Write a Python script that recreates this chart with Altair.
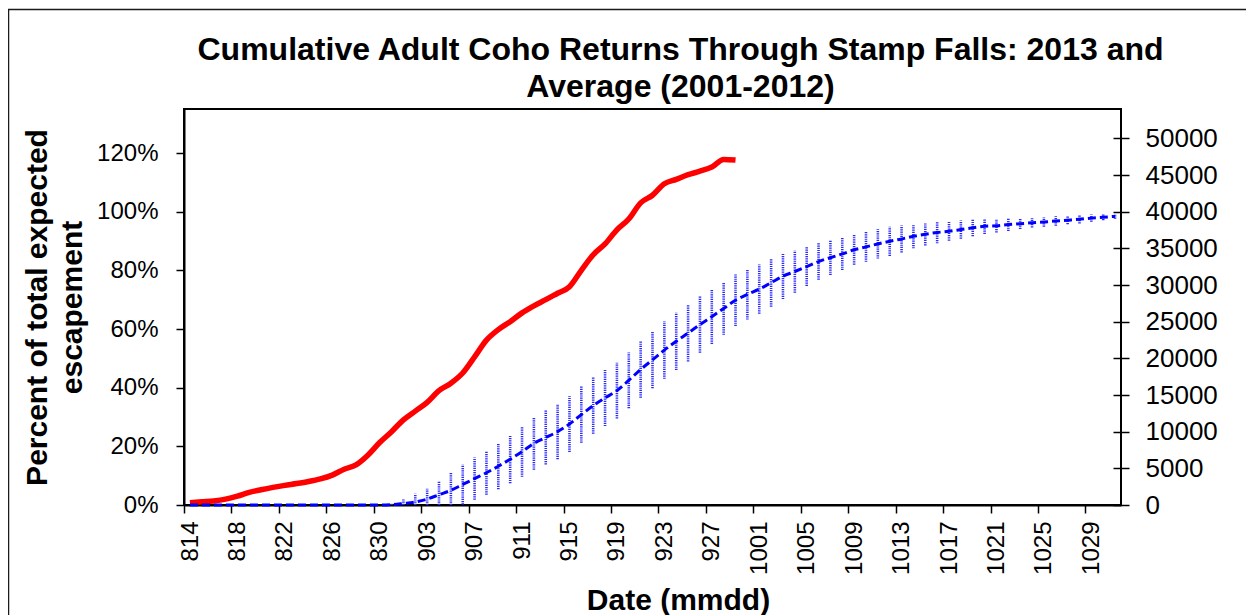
import altair as alt
import pandas as pd

FONT = "Liberation Sans"

# x-axis tick labels (mmdd), one every 4 days starting at 814
tick_labels = ["814", "818", "822", "826", "830", "903", "907", "911", "915", "919",
               "923", "927", "1001", "1005", "1009", "1013", "1017", "1021", "1025", "1029"]

# 2013 cumulative % of total expected escapement (daily from 814)
pct_2013 = [0.8, 1.1, 1.4, 2.0, 3.0, 4.3, 5.2, 6.0, 6.7, 7.3,
            8.0, 8.9, 10.2, 12.2, 13.7, 17.0, 21.3, 25.0, 29.0, 32.0,
            35.0, 39.0, 41.5, 45.0, 50.5, 56.2, 59.8, 62.5, 65.5, 67.9,
            70.0, 72.2, 74.4, 80.0, 85.3, 89.0, 93.8, 97.5, 103.0, 105.6,
            109.5, 111.0, 112.6, 113.8, 115.2, 117.8, 117.6]

# Average 2001-2012 cumulative % (daily from 814)
pct_avg = [0, 0, 0, 0, 0, 0, 0, 0, 0, 0,
           0, 0, 0, 0, 0, 0, 0, 0.1, 0.5, 1.0,
           2.0, 3.5, 5.0, 7.0, 9.0, 11.0, 13.2, 15.6, 18.2, 21.0,
           23.0, 25.0, 27.6, 30.8, 33.9, 36.5, 39.0, 42.5, 46.2, 49.5,
           52.8, 55.8, 58.6, 61.5, 64.2, 67.0, 69.8, 71.8, 73.6, 75.8,
           78.0, 79.6, 81.3, 83.0, 84.3, 85.6, 87.0, 88.0, 89.0, 89.9,
           90.7, 91.6, 92.3, 92.9, 93.3, 93.9, 94.5, 95.0, 95.2, 95.6,
           95.9, 96.2, 96.5, 96.8, 97.1, 97.4, 97.8, 98.1, 98.4]

# error bar half-widths (%) for the average
err_avg = [0, 0, 0, 0, 0, 0, 0, 0, 0, 0,
           0, 0, 0, 0, 0, 0, 0, 0.3, 1.5, 2.8,
           3.5, 4.5, 6.0, 6.8, 7.2, 7.5, 7.8, 8.2, 8.6, 9.0,
           9.2, 9.4, 9.5, 9.6, 9.6, 9.6, 9.5, 9.5, 9.6, 9.7,
           9.8, 9.8, 9.7, 9.6, 9.3, 9.0, 8.8, 8.6, 8.4, 8.2,
           7.8, 7.2, 6.6, 6.2, 5.9, 5.5, 5.1, 5.1, 5.0, 5.0,
           4.6, 4.1, 3.8, 3.7, 3.2, 3.1, 2.9, 2.6, 2.3, 2.2,
           1.8, 1.6, 1.6, 1.6, 1.4, 1.4, 1.2, 1.0, 0.8]

n_days = len(pct_avg)

red_df = pd.DataFrame({"day": [i + 0.5 for i in range(len(pct_2013))],
                       "pct": [v / 100 for v in pct_2013]})
avg_df = pd.DataFrame({"day": [i + 0.5 for i in range(n_days)],
                       "pct": [v / 100 for v in pct_avg],
                       "err": [e / 100 for e in err_avg]})
avg_df["lo"] = (avg_df["pct"] - avg_df["err"]).clip(lower=0)
avg_df["hi"] = avg_df["pct"] + avg_df["err"]
avg_df["count"] = avg_df["pct"] * 40000
err_df = avg_df[avg_df["err"] > 0]

W, H = 937, 396
PAD = {"left": 176, "top": 101, "right": 125, "bottom": 110}
label_expr = "[" + ",".join("'%s'" % t for t in tick_labels) + "][round(datum.value / 4)]"

x_axis = alt.Axis(values=[4 * k for k in range(len(tick_labels))], labelExpr=label_expr,
                  labelAngle=-90, labelOffset=6, tickSize=8, labelPadding=8,
                  labelFontSize=24, title="Date (mmdd)", titleFontSize=30,
                  titleX=494, titleY=104, titleBaseline="alphabetic", titleAnchor="start",
                  titleAlign="center")
x_scale = alt.Scale(domain=[0, n_days], nice=False, zero=False)
X = alt.X("day:Q", scale=x_scale, axis=x_axis)

y_scale = alt.Scale(domain=[0, 1.35], nice=False)
y_axis = alt.Axis(values=[0, 0.2, 0.4, 0.6, 0.8, 1.0, 1.2], format=".0%", tickSize=8,
                  labelPadding=18, labelFontSize=24,
                  title=["Percent of total expected", "escapement"], titleFontSize=30,
                  titlePadding=9, titleLineHeight=35)

red = alt.Chart(red_df).mark_line(color="#ff0000", strokeWidth=5.5, interpolate="monotone").encode(
    x=X,
    y=alt.Y("pct:Q", scale=y_scale, axis=y_axis),
)

bars = alt.Chart(err_df).mark_rule(color="#2a2aff", strokeWidth=2.6, strokeDash=[1.2, 1]).encode(
    x=X,
    y=alt.Y("lo:Q", scale=y_scale, axis=None),
    y2="hi:Q",
)

blue = alt.Chart(avg_df).mark_line(color="#0000ff", strokeWidth=3, strokeDash=[8, 4],
                                    interpolate="monotone").encode(
    x=X,
    y=alt.Y("pct:Q", scale=y_scale, axis=None),
)

count_scale = alt.Scale(domain=[0, 54000], nice=False)
count_vals = list(range(0, 50001, 5000))

right = alt.Chart(avg_df).mark_line(opacity=0).encode(
    x=X,
    y=alt.Y("count:Q", scale=count_scale,
            axis=alt.Axis(orient="right", values=count_vals, format="d", tickSize=16,
                          offset=-8, domain=False, labelPadding=16, labelFontSize=26,
                          title=None)),
)

# thin frame around the whole chart (outer chart-area border)
frame = alt.Chart(pd.DataFrame({"frame": [0]})).mark_rect(
    fillOpacity=0, stroke="#1a1a1a", strokeWidth=1.5
).encode(x=alt.value(-175.5), x2=alt.value(W + 300), y=alt.value(-99.5), y2=alt.value(H + 300))

chart = alt.layer(red, bars, blue, right, frame).resolve_scale(y="independent").properties(
    width=W, height=H,
    padding=PAD,
    autosize="none",
    background="white",
    title=alt.TitleParams(
        ["Cumulative Adult Coho Returns Through Stamp Falls: 2013 and", "Average (2001-2012)"],
        fontSize=32, font=FONT, fontWeight="bold", anchor="middle", frame="group",
        dx=28, offset=-95, lineHeight=37, color="black"),
).configure_view(stroke="black", strokeWidth=2).configure_axis(
    grid=False, domainColor="black", domainWidth=2, tickColor="black", tickWidth=1.5,
    labelColor="black", labelFont=FONT, titleFont=FONT, titleColor="black",
    titleFontWeight="bold", labelFlush=False, labelOverlap=False,
)

chart.save("out.html", embed_options={"renderer": "svg", "actions": False})
